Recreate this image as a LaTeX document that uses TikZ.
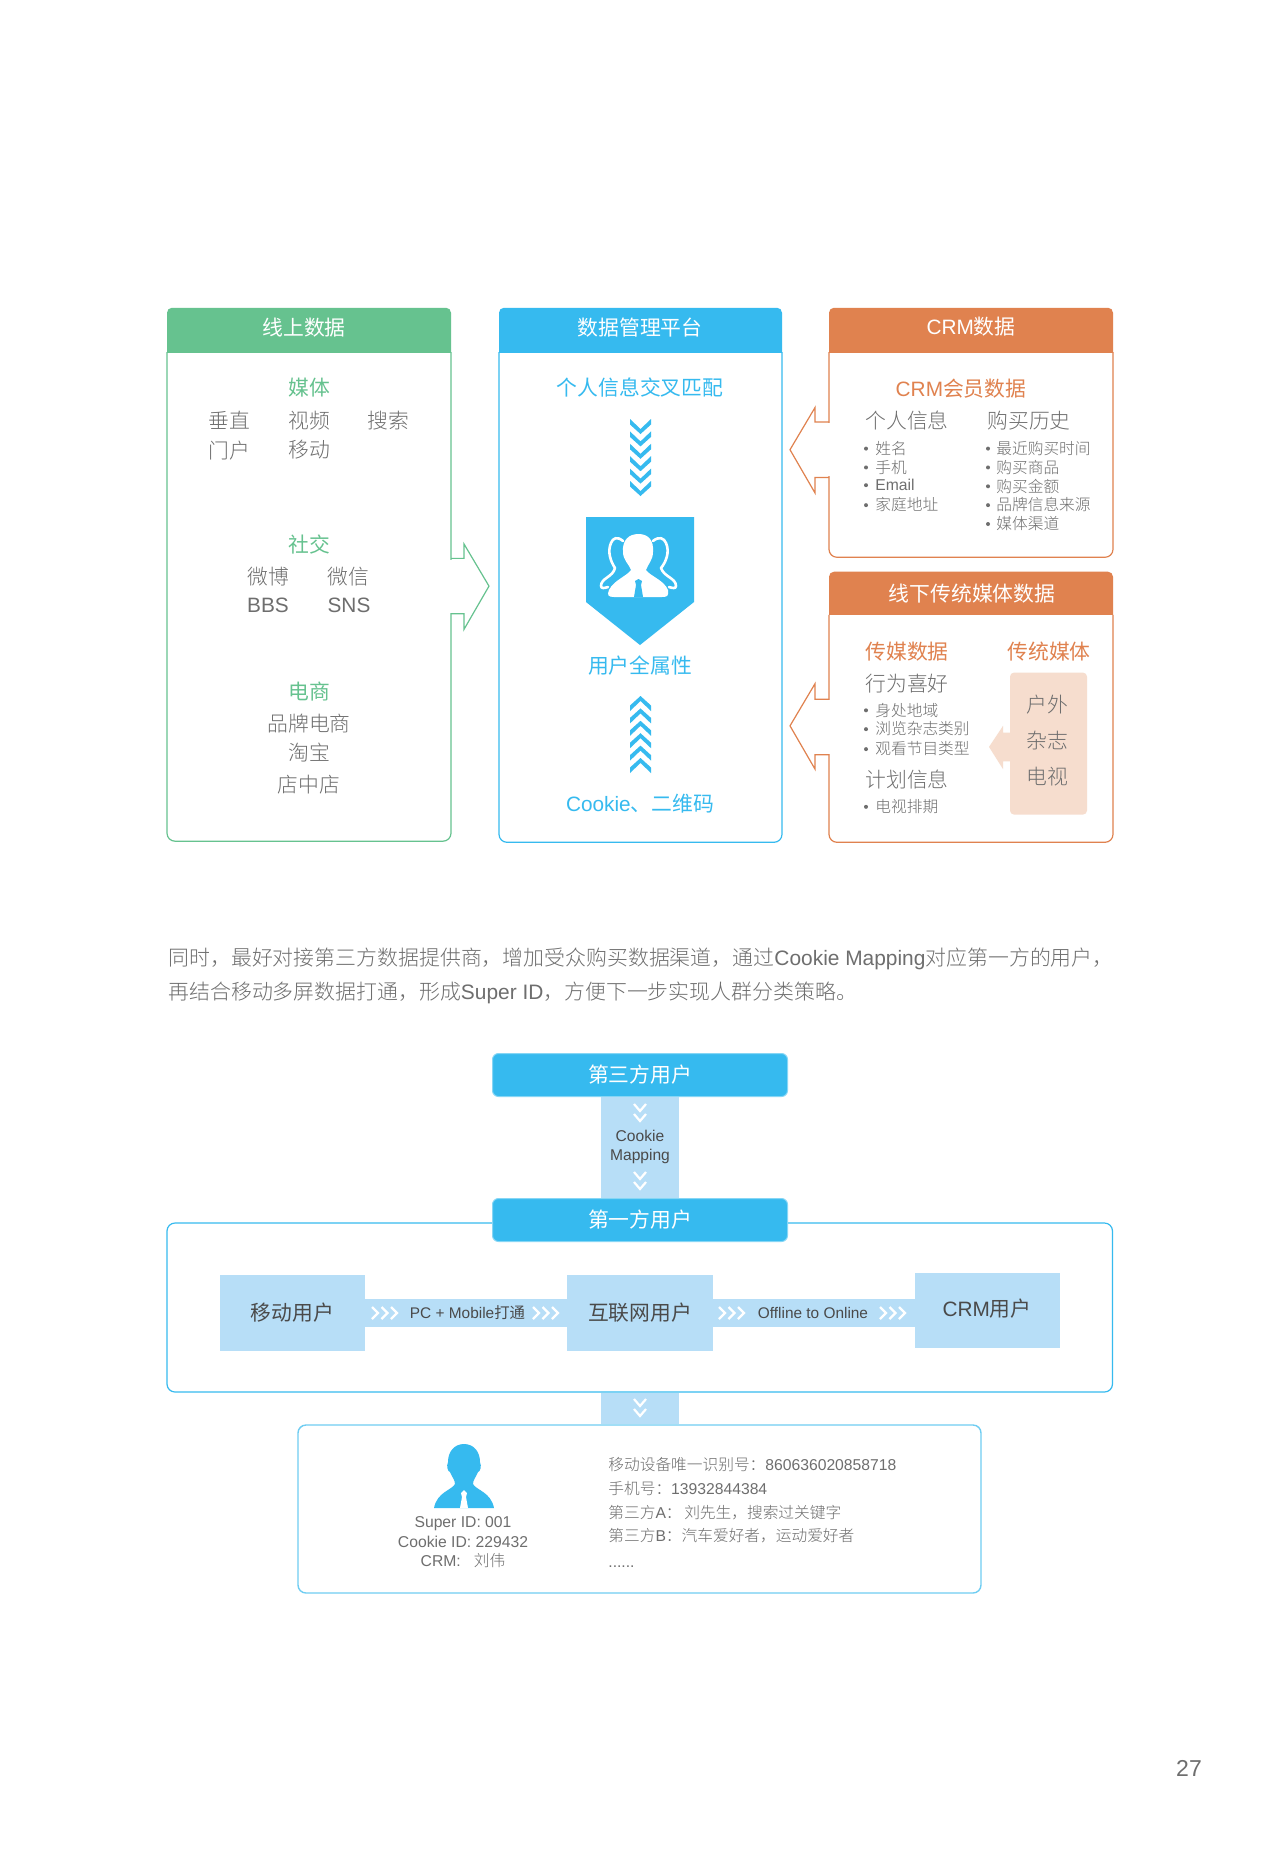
\documentclass[tikz,border=0pt]{standalone}
\usepackage{fontspec}
\setmainfont{Noto Sans CJK SC Light}
\newfontfamily\med{Noto Sans CJK SC}
\newfontfamily\lafont{Liberation Sans}
\newcommand{\la}[1]{{\lafont #1}}
\usetikzlibrary{calc}
\definecolor{cgreen}{HTML}{66C28F}
\definecolor{cblue}{HTML}{36BAEF}
\definecolor{corange}{HTML}{E0824F}
\definecolor{cpeach}{HTML}{F6DDCE}
\definecolor{clight}{HTML}{B7DEF7}
\definecolor{ctxt}{HTML}{6E6E6E}
\definecolor{cdark}{HTML}{4A4A4A}
\definecolor{ccard}{HTML}{6FCDF2}
\newcounter{tc}
\newcommand{\tx}[4]{\stepcounter{tc}\node[#1] (t\thetc) at (#2,#3) {#4};}
% header box: x0 y0 x1 y1 yh colour
\newcommand{\panel}[6]{%
  \begin{scope}
    \clip (#1-2,#2-2) rectangle (#3+2,#5);
    \fill[#6,rounded corners=2.5pt] (#1,#2) rectangle (#3,#5+20);
  \end{scope}
  \draw[#6,line width=.6pt,rounded corners=4pt] (#1,#5) -- (#1,#4) -- (#3,#4) -- (#3,#5);
}
\newcommand{\chevdown}[3]{\fill[#3] (630,#2) -- (640.5,#2+10) -- (651,#2) -- (651,#2+5.5) -- (640.5,#2+15) -- (630,#2+5.5) -- cycle;}
\newcommand{\chevup}[3]{\fill[#3] (630,#2) -- (640.5,#2-10) -- (651,#2) -- (651,#2-5.5) -- (640.5,#2-15) -- (630,#2-5.5) -- cycle;}
\newcommand{\wdown}[2]{\draw[white,line width=1.1pt,miter limit=4] (#1-6,#2-4) -- (#1,#2+3) -- (#1+6,#2-4);}
\newcommand{\wright}[2]{\foreach \k in {0,1,2}{\draw[white,line width=1.1pt] (#1+\k*9.5,#2-6) -- (#1+\k*9.5+6,#2) -- (#1+\k*9.5,#2+6);}}
\tikzset{
  big/.style={font=\fontsize{10.4}{12}\selectfont,text=ctxt,inner sep=0pt,text height=9pt,text depth=1.4pt},
  small/.style={font=\fontsize{7.85}{10}\selectfont,text=ctxt,inner sep=0pt,text height=7pt,text depth=1.3pt},
  ttl/.style={big,font=\med\fontsize{10.4}{12}\selectfont},
  head/.style={ttl,text=white},
  lft/.style={anchor=west},
  bandbox/.style={draw=none,fill=clight,inner sep=0pt,font=\med\fontsize{10.4}{12}\selectfont,text=cdark,text height=9pt,text depth=1.4pt},
  bluebar/.style={draw=cblue!60,line width=.5pt,fill=cblue,rounded corners=3pt,minimum width=147.5pt,minimum height=21.5pt,inner sep=0pt,font=\med\fontsize{10.4}{12}\selectfont,text=white,text height=9pt,text depth=1.4pt},
  dot/.style={circle,fill=ctxt,inner sep=0pt,minimum size=2pt},
}
\begin{document}
\begin{tikzpicture}[x=0.5pt,y=-0.5pt]
\useasboundingbox (0,0) rectangle (1280,1860);
\fill[white] (0,0) rectangle (1280,1860);

\begin{scope}[y=-0.5545pt,yshift=15.805pt]
% ---- top panels
\panel{167}{306}{451}{787}{346}{cgreen}
\panel{499}{306}{782}{788}{346}{cblue}
\panel{829}{306}{1113}{531}{346}{corange}
\panel{829}{544}{1113}{788}{583}{corange}

% big outline arrows
\fill[white] (449,533) rectangle (453,581);
\draw[cgreen,line width=.6pt,line join=miter] (451,532) -- (464,532) -- (464,519) -- (489,557) -- (464,596) -- (464,582) -- (451,582);
\fill[white] (827,410) rectangle (831,458);
\draw[corange,line width=.6pt] (829,409) -- (815,409) -- (815,396) -- (790,434) -- (815,473) -- (815,459) -- (829,459);
\fill[white] (827,660) rectangle (831,708);
\draw[corange,line width=.6pt] (829,659) -- (815,659) -- (815,645) -- (790,683) -- (815,722) -- (815,709) -- (829,709);

% headers
\tx{head}{304}{324}{线上数据}
\tx{head}{640}{324}{数据管理平台}
\tx{head}{971}{323}{\la{CRM}数据}
\tx{head}{972}{564}{线下传统媒体数据}

% panel 1
\tx{ttl,text=cgreen}{309}{378}{媒体}
\tx{big}{229}{408}{垂直}
\tx{big}{309}{408}{视频}
\tx{big}{388}{408}{搜索}
\tx{big}{229}{435}{门户}
\tx{big}{309}{434}{移动}
\tx{ttl,text=cgreen}{309}{520}{社交}
\tx{big}{268}{549}{微博}
\tx{big}{348}{549}{微信}
\tx{big}{268}{574}{\la{BBS}}
\tx{big}{349}{574}{\la{SNS}}
\tx{ttl,text=cgreen}{309}{652}{电商}
\tx{big}{309}{681}{品牌电商}
\tx{big}{309}{707}{淘宝}
\tx{big}{309}{736}{店中店}

% panel 2
\tx{ttl,text=cblue}{640}{378}{个人信息交叉匹配}
\tx{ttl,text=cblue}{640}{629}{用户全属性}
\tx{ttl,text=cblue}{640}{753}{\la{Cookie}、二维码}

% panel 3
\tx{ttl,text=corange}{961}{379}{\la{CRM}会员数据}
\tx{big,lft}{865}{408}{个人信息}
\tx{big,lft}{987}{408}{购买历史}
\foreach \y/\t in {433/姓名,450/手机,466/\la{Email},484/家庭地址}{
  \node[dot] (bl\y) at (866,\y) {};
  \tx{small,lft}{875}{\y}{\t}
}
\foreach \y/\t in {433/最近购买时间,450/购买商品,467/购买金额,484/品牌信息来源,501/媒体渠道}{
  \node[dot] (br\y) at (988,\y) {};
  \tx{small,lft}{996}{\y}{\t}
}

% panel 4
\tx{ttl,lft,text=corange}{865}{616}{传媒数据}
\tx{ttl,lft,text=corange}{1007}{616}{传统媒体}
\tx{big,lft}{865}{645}{行为喜好}
\foreach \y/\t in {669/身处地域,686/浏览杂志类别,704/观看节目类型,756/电视排期}{
  \node[dot] (bm\y) at (866,\y) {};
  \tx{small,lft}{875}{\y}{\t}
}
\tx{big,lft}{865}{732}{计划信息}
\fill[cpeach,rounded corners=2pt] (1010,635) rectangle (1087,763);
\fill[cpeach] (1011,689) -- (1003,689) -- (1003,683) -- (989,702) -- (1003,722) -- (1003,715) -- (1011,715) -- cycle;
\tx{big}{1047}{664}{户外}
\tx{big}{1047}{697}{杂志}
\tx{big}{1047}{729}{电视}
\end{scope}

% chevrons and shield in panel 2
\foreach \i in {0,...,5}{\chevdown{640}{419+\i*12.4}{cblue}}
\foreach \i in {0,...,5}{\chevup{640}{773-\i*12.4}{cblue}}
\fill[cblue] (586,517) -- (694,517) -- (694,602) -- (640,645) -- (586,602) -- cycle;
% crowd icon
\draw[white,line width=1.3pt,line join=round,line cap=round]
  (623,541) .. controls (617,536) and (613,538) .. (611,543)
  .. controls (607,552) and (611,562) .. (615,568)
  .. controls (613,577) and (601,578) .. (601,586)
  .. controls (601,589) and (605,588) .. (608,587);
\draw[white,line width=1.3pt,line join=round,line cap=round]
  (653,541) .. controls (659,536) and (664,538) .. (666,543)
  .. controls (670,552) and (666,562) .. (661,568)
  .. controls (664,577) and (676,578) .. (676,586)
  .. controls (676,589) and (672,588) .. (669,587);
\fill[white] (638.5,534) .. controls (648,534) and (654,540) .. (653,552)
  .. controls (653,560) and (648,564) .. (646,570)
  .. controls (650,576) and (664,580) .. (668,590)
  .. controls (669,596) and (667,597) .. (662,597) -- (614,597)
  .. controls (608,597) and (607,595) .. (609,590)
  .. controls (614,580) and (627,576) .. (631,570)
  .. controls (629,564) and (623,560) .. (623,552)
  .. controls (622,540) and (629,534) .. (638.5,534) -- cycle;
\fill[cblue] (635,581) -- (638.5,579) -- (642,581) -- (641,585) -- (643,597) -- (634,597) -- (636,585) -- cycle;

% paragraph
\tx{big,lft,font=\fontsize{10.45}{12}\selectfont}{168}{958}{同时，最好对接第三方数据提供商，增加受众购买数据渠道，通过\la{Cookie Mapping}对应第一方的用户，}
\tx{big,lft,font=\fontsize{10.45}{12}\selectfont}{168}{992}{再结合移动多屏数据打通，形成\la{Super ID}，方便下一步实现人群分类策略。}

% ---- lower flow
\draw[cblue,line width=.6pt,rounded corners=4pt] (167,1223) rectangle (1112.5,1392);
\node[bluebar] (third) at (640,1075) {第三方用户};
\node[bluebar] (first) at (640,1220) {第一方用户};
\fill[clight] ($(third.south)+(-39,0)$) rectangle ($(first.north)+(39,0)$);
\wdown{640}{1108}\wdown{640}{1118}
\wdown{640}{1176}\wdown{640}{1186}
\node[small,font=\fontsize{7.8}{10}\selectfont,text=cdark] (cm1) at (640,1136) {\la{Cookie}};
\node[small,font=\fontsize{7.8}{10}\selectfont,text=cdark] (cm2) at (640,1155) {\la{Mapping}};

\node[bandbox,minimum width=72.5pt,minimum height=38pt] (mob) at (292.5,1313) {移动用户};
\node[bandbox,minimum width=73pt,minimum height=38pt] (web) at (640,1313) {互联网用户};
\node[bandbox,minimum width=72.5pt,minimum height=37.5pt] (crm) at (987.5,1310.5) {};
\node[bandbox,fill=none,inner sep=0pt] (crmt) at (987,1309) {\la{CRM}用户};
\fill[clight] ($(mob.east)+(0,-14)$) rectangle ($(web.west)+(0,14)$);
\fill[clight] ($(web.east)+(0,-14)$) rectangle ($(crm.west|-web.east)+(0,14)$);
\wright{372}{1313}\wright{533}{1313}\wright{719}{1313}\wright{880}{1313}
\tx{small,font=\med\fontsize{7.7}{10}\selectfont,text=cdark}{467.5}{1313}{\la{PC + Mobile}打通}
\tx{small,font=\fontsize{7.7}{10}\selectfont,text=cdark}{813}{1313}{\la{Offline to Online}}

% result card
\draw[ccard,line width=.7pt,rounded corners=4pt] (298,1425) rectangle (981,1593);
\coordinate (bigbot) at (640,1392);
\coordinate (cardtop) at (640,1425);
\fill[clight] ($(bigbot)+(-39,.6)$) rectangle ($(cardtop)+(39,-.6)$);
\wdown{640}{1403}\wdown{640}{1413}
% person
\fill[cblue] (464,1444) .. controls (474,1444) and (480,1452) .. (480,1462)
  .. controls (482,1466) and (480,1472) .. (478,1472)
  .. controls (476,1477) and (473,1480) .. (473,1484)
  .. controls (476,1490) and (491,1492) .. (494,1508) -- (434,1508)
  .. controls (437,1492) and (452,1490) .. (455,1484)
  .. controls (455,1480) and (452,1477) .. (450,1472)
  .. controls (448,1472) and (446,1466) .. (448,1462)
  .. controls (448,1452) and (454,1444) .. (464,1444) -- cycle;
\fill[white] (461,1493) -- (464,1490) -- (467,1493) -- (466,1497) -- (468,1508) -- (460,1508) -- (462,1497) -- cycle;
\tx{small}{463}{1522}{\la{Super ID: 001}}
\tx{small}{463}{1542}{\la{Cookie ID: 229432}}
\tx{small}{463}{1561}{\la{CRM:~~~}刘伟}
\tx{small,lft}{608}{1465}{移动设备唯一识别号：\la{860636020858718}}
\tx{small,lft}{608}{1489}{手机号：\la{13932844384}}
\tx{small,lft}{608}{1513}{第三方\la{A}：\,刘先生，搜索过关键字}
\tx{small,lft}{608}{1536}{第三方\la{B}：汽车爱好者，运动爱好者}
\tx{small,lft}{608}{1562}{\la{......}}

\tx{big,font=\fontsize{11.5}{13}\selectfont}{1189}{1769}{\la{27}}
\end{tikzpicture}
\end{document}
